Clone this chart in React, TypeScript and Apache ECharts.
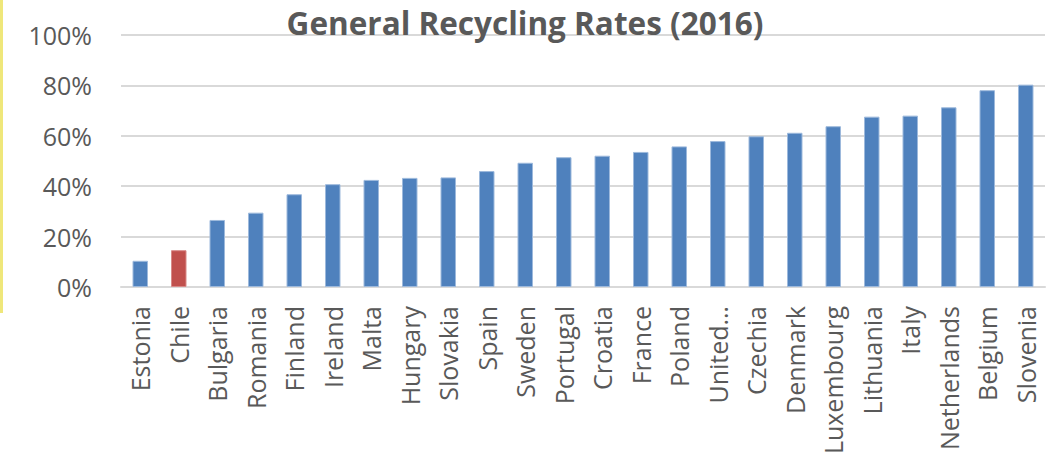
import React, { useEffect, useRef } from "react";
import * as echarts from "echarts";

const countries = [
  "Estonia", "Chile", "Bulgaria", "Romania", "Finland", "Ireland", "Malta", "Hungary",
  "Slovakia", "Spain", "Sweden", "Portugal", "Croatia", "France", "Poland", "United Kingdom",
  "Czechia", "Denmark", "Luxembourg", "Lithuania", "Italy", "Netherlands", "Belgium", "Slovenia",
];
const rates = [
  10.4, 14.6, 26.6, 29.5, 36.8, 40.8, 42.5, 43.3,
  43.5, 46.0, 49.3, 51.5, 52.1, 53.6, 55.8, 57.9,
  59.8, 61.2, 63.8, 67.6, 68.0, 71.3, 78.1, 80.3,
];
const highlighted = ["Chile"];
const yTicks = [0, 20, 40, 60, 80, 100];
const titleText = "General Recycling Rates (2016)";

const BLUE = "#4F81BD";
const RED = "#C0504D";
const FONT = "'Open Sans', sans-serif";

export default function App() {
  const ref = useRef<HTMLDivElement>(null);
  useEffect(() => {
    if (!ref.current) return;
    const chart = echarts.init(ref.current, null, { renderer: "svg" });
    chart.setOption({
      animation: false,
      backgroundColor: "#ffffff",
      title: {
        text: titleText,
        left: "center",
        top: 1,
        textStyle: { fontFamily: FONT, fontWeight: "bold", fontSize: 31.5, color: "#595959" },
      },
      graphic: [
        { type: "rect", left: 0, top: 0, shape: { width: 3, height: 313 }, style: { fill: "#EFE77A" } },
      ],
      grid: { left: 121, right: 5, top: 35, bottom: 173, containLabel: false },
      xAxis: {
        type: "category",
        data: countries,
        axisLine: { lineStyle: { color: "#D9D9D9", width: 2 } },
        axisTick: { show: false },
        axisLabel: {
          rotate: 90,
          interval: 0,
          margin: 19,
          fontFamily: FONT,
          fontSize: 25,
          color: "#595959",
          formatter: (v: string) => (v === "United Kingdom" ? "United…" : v),
        },
      },
      yAxis: {
        type: "value",
        min: yTicks[0],
        max: yTicks[yTicks.length - 1],
        interval: 20,
        axisLine: { show: false },
        axisTick: { show: false },
        splitLine: { lineStyle: { color: "#D9D9D9", width: 2 } },
        axisLabel: {
          margin: 29,
          fontFamily: FONT,
          fontSize: 25,
          color: "#595959",
          formatter: (v: number) => `${v}%`,
        },
      },
      series: [
        {
          type: "bar",
          barWidth: 15.5,
          data: rates.map((v, i) => ({
            value: v,
            itemStyle: {
              color: highlighted.includes(countries[i]) ? RED : BLUE,
              borderColor: highlighted.includes(countries[i]) ? "#D88A88" : "#9DB9DC",
              borderWidth: 1,
            },
          })),
        },
      ],
    });
    return () => chart.dispose();
  }, []);
  return (
    <div
      ref={ref}
      style={{ position: "fixed", left: 0, top: 0, width: 1050, height: 460 }}
    />
  );
}
